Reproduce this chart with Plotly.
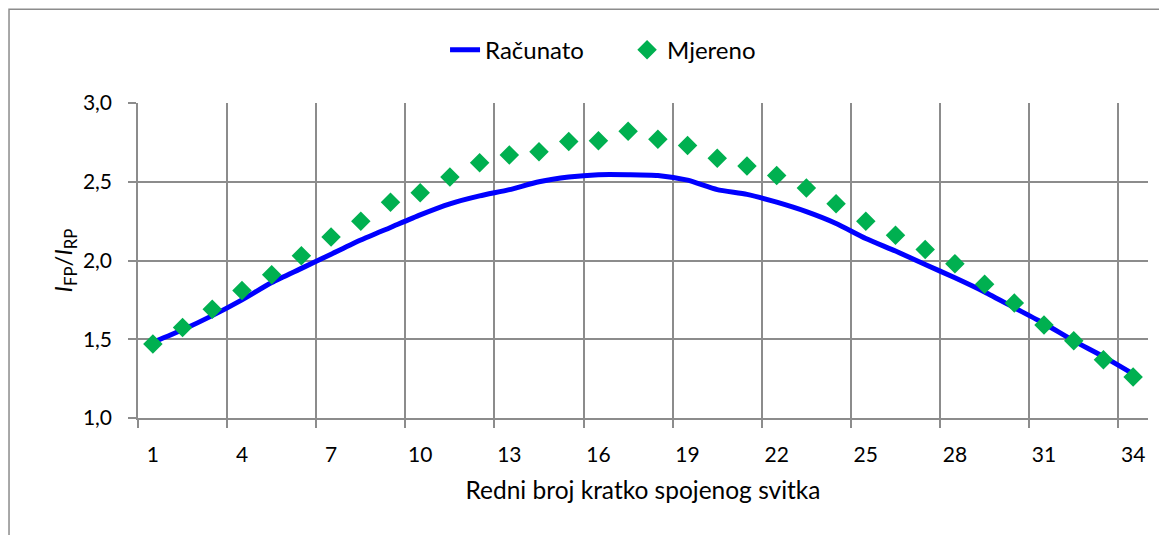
import plotly.graph_objects as go

coils = list(range(1, 35))
racunato = [1.48, 1.56, 1.65, 1.75, 1.86, 1.95, 2.04, 2.13, 2.21, 2.29,
            2.36, 2.41, 2.45, 2.50, 2.53, 2.545, 2.545, 2.54, 2.51, 2.45,
            2.42, 2.37, 2.31, 2.235, 2.14, 2.06, 1.975, 1.89, 1.80, 1.70,
            1.60, 1.49, 1.39, 1.28]
mjereno = [1.47, 1.575, 1.69, 1.81, 1.91, 2.03, 2.15, 2.25, 2.37, 2.43,
           2.53, 2.62, 2.67, 2.69, 2.755, 2.76, 2.82, 2.77, 2.73, 2.65,
           2.60, 2.54, 2.46, 2.36, 2.25, 2.16, 2.07, 1.98, 1.85, 1.73,
           1.59, 1.49, 1.37, 1.26]
x_labels = [1, 4, 7, 10, 13, 16, 19, 22, 25, 28, 31, 34]
y_ticks = [1.0, 1.5, 2.0, 2.5, 3.0]

FONT = "Lato"
GRID = "#8c8c8c"

fig = go.Figure()
fig.add_trace(go.Scatter(
    x=coils, y=racunato, mode="lines", name="Računato",
    line=dict(color="#0000FF", width=5, shape="spline", smoothing=0.6),
))
fig.add_trace(go.Scatter(
    x=coils, y=mjereno, mode="markers", name="Mjereno",
    marker=dict(symbol="diamond", color="#00B050", size=15, line=dict(width=0)),
))

grid_pos = [v - 0.5 for v in x_labels]

fig.update_layout(
    width=1159, height=527,
    margin=dict(l=130, r=19, t=95, b=117),
    paper_bgcolor="white", plot_bgcolor="white",
    separators=",.",
    font=dict(family=FONT, size=21, color="#000000"),
    showlegend=True,
    legend=dict(orientation="h", x=0.304, xanchor="left", y=1.168, yanchor="middle",
                font=dict(size=24), entrywidth=137, itemwidth=30,
                bgcolor="rgba(0,0,0,0)"),
    xaxis=dict(
        range=[0.5, 34.5], tickmode="array", tickvals=x_labels,
        ticktext=[str(v) for v in x_labels],
        showgrid=False, ticks="", ticklabelstandoff=17,
        showline=True, linecolor=GRID, linewidth=1.5, mirror=False,
        zeroline=False,
        minor=dict(tickmode="array", tickvals=grid_pos, showgrid=True,
                   gridcolor=GRID, gridwidth=1.5, ticks="outside",
                   ticklen=8, tickcolor=GRID, tickwidth=1.5),
        title=dict(text="Redni broj kratko spojenog svitka", standoff=17,
                   font=dict(size=24.5)),
        tickfont=dict(size=21),
    ),
    yaxis=dict(
        range=[1.0, 3.0], tickmode="array", tickvals=y_ticks, tickformat=".1f",
        showgrid=True, gridcolor=GRID, gridwidth=1.5,
        ticks="outside", ticklen=8, tickcolor=GRID, tickwidth=1.5,
        ticklabelstandoff=12,
        showline=True, linecolor=GRID, linewidth=1.5, zeroline=False,
        title=dict(text="<i>I</i><sub>FP</sub>/<i>I</i><sub>RP</sub>", standoff=4,
                   font=dict(size=24)),
        tickfont=dict(size=21),
    ),
    shapes=[dict(type="rect", xref="paper", yref="paper",
                 x0=-0.1277, x1=1.03, y0=-0.4, y1=1.298,
                 line=dict(color="#8c8c8c", width=1.5), fillcolor="rgba(0,0,0,0)",
                 layer="below")],
)

fig.write_html("out.html")
